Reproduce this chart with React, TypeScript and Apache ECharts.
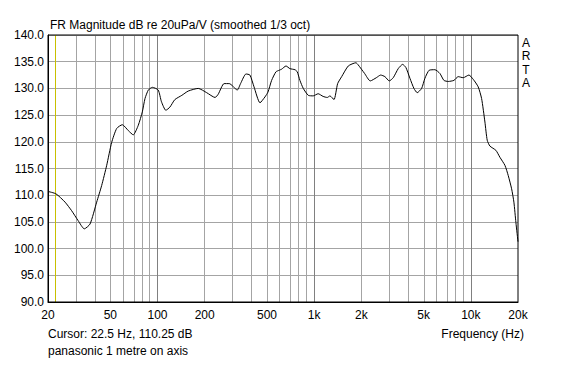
import React, { useEffect, useRef } from "react";
import * as echarts from "echarts";

const freqHz = [20, 22.5, 25.7, 28.3, 31.2, 34.1, 37.1, 40.9, 44, 47.4, 51, 54.9, 59.6, 65.1, 70, 75.4, 80, 83.2, 87.4, 92.7, 101, 106, 113, 120, 129, 143, 157, 182, 206, 233, 244, 266, 287, 323, 339, 367, 389, 413, 451, 485, 507, 535, 570, 598, 620, 661, 700, 754, 780, 811, 852, 917, 986, 1060, 1140, 1212, 1261, 1338, 1412, 1498, 1651, 1848, 1910, 2098, 2280, 2493, 2658, 2830, 3014, 3196, 3440, 3670, 3852, 4084, 4332, 4546, 4852, 5092, 5420, 5898, 6346, 6732, 7170, 7798, 8306, 8940, 9720, 10356, 11140, 11714, 12300, 12720, 13234, 14456, 15330, 16500, 17320, 18210, 18830, 19390, 20000];

const magDb = [110.7, 110.25, 108.7, 107.1, 105.2, 103.7, 104.6, 108.7, 111.8, 115.6, 119.9, 122.5, 123.2, 122.1, 121.3, 123.1, 125.6, 128.1, 129.7, 130.2, 129.7, 127.5, 125.9, 126.5, 127.9, 128.7, 129.5, 130.0, 129.2, 128.3, 128.9, 130.9, 130.9, 129.7, 130.9, 132.7, 132.5, 130.3, 127.3, 128.4, 129.3, 131.5, 133.1, 133.4, 133.6, 134.2, 133.7, 133.5, 133.1, 131.5, 130.0, 128.7, 128.6, 129.0, 128.5, 128.3, 128.6, 127.9, 130.9, 132.2, 134.2, 134.8, 134.4, 132.8, 131.4, 132.0, 132.5, 132.2, 131.4, 132.0, 133.7, 134.5, 133.9, 131.9, 130.0, 129.2, 130.0, 131.9, 133.4, 133.5, 132.8, 131.5, 131.3, 131.5, 132.2, 132.0, 132.5, 131.7, 130.3, 128.1, 123.7, 120.3, 119.2, 118.4, 117.1, 115.6, 113.7, 111.2, 108.7, 104.9, 101.3];

const gridFreqs = [30, 40, 50, 60, 70, 80, 90, 100, 200, 300, 400, 500, 600, 700, 800, 900, 1000, 2000, 3000, 4000, 5000, 6000, 7000, 8000, 9000, 10000];
const decadeFreqs = [100, 1000, 10000];
const xLabelFreqs = [20, 50, 100, 200, 500, 1000, 2000, 5000, 10000, 20000];
const cursorFreq = 22.5;

const titleText = "FR Magnitude dB re 20uPa/V (smoothed 1/3 oct)";
const cursorText = "Cursor: 22.5 Hz, 110.25 dB";
const noteText = "panasonic 1 metre on axis";
const xAxisName = "Frequency (Hz)";
const brandLetters = ["A", "R", "T", "A"];

const FONT = "'Liberation Sans', Arial, sans-serif";

function fmtFreq(v: number): string {
  const f = Math.round(Math.pow(10, v));
  return f >= 1000 ? f / 1000 + "k" : String(f);
}

export default function App() {
  const ref = useRef<HTMLDivElement>(null);
  useEffect(() => {
    if (!ref.current) return;
    const chart = echarts.init(ref.current, null, { renderer: "svg" });
    const lineData = freqHz.map((f, i) => [Math.log10(f), magDb[i]]);
    const markData: any[] = gridFreqs.map((f) => ({
      xAxis: Math.log10(f),
      lineStyle: {
        color: decadeFreqs.includes(f) ? "#808080" : "#a4a4a4",
        width: 1,
        type: "solid",
      },
    }));
    markData.push({
      xAxis: Math.log10(cursorFreq),
      lineStyle: { color: "#c8c000", width: 1, type: "solid" },
    });
    chart.setOption({
      animation: false,
      textStyle: { fontFamily: FONT },
      grid: {
        left: 48,
        top: 35,
        width: 470,
        height: 267,
        show: true,
        borderColor: "#000",
        borderWidth: 1,
        backgroundColor: "transparent",
        z: 10,
      },
      xAxis: {
        type: "value",
        min: Math.log10(20),
        max: Math.log10(20000),
        axisLine: { show: true, lineStyle: { color: "#000" } },
        axisTick: { show: false },
        splitLine: { show: false },
        axisLabel: {
          customValues: xLabelFreqs.map((f) => Math.log10(f)),
          formatter: (v: number) => fmtFreq(v),
          color: "#000",
          fontSize: 12,
          fontFamily: FONT,
          margin: 7,
          showMinLabel: true,
          showMaxLabel: true,
        },
      },
      yAxis: {
        type: "value",
        min: 90,
        max: 140,
        interval: 5,
        axisLine: { show: true, lineStyle: { color: "#000" } },
        axisTick: { show: false },
        splitLine: { show: true, lineStyle: { color: "#a4a4a4", width: 1 } },
        axisLabel: {
          formatter: (v: number) => v.toFixed(1),
          color: "#000",
          fontSize: 12,
          fontFamily: FONT,
          margin: 4,
        },
      },
      series: [
        {
          type: "line",
          data: lineData,
          showSymbol: false,
          smooth: 0.2,
          lineStyle: { color: "#000", width: 1 },
          z: 5,
          markLine: {
            silent: true,
            symbol: "none",
            label: { show: false },
            animation: false,
            z: 1,
            data: markData,
          },
        },
      ],
      graphic: [
        {
          type: "text",
          x: 50,
          y: 24.5,
          style: {
            text: titleText,
            font: "12px " + FONT,
            fill: "#000",
            verticalAlign: "middle",
            textVerticalAlign: "middle",
          },
        },
        {
          type: "text",
          x: 526,
          y: 36,
          style: {
            text: brandLetters.join("\n"),
            font: "12px " + FONT,
            lineHeight: 13.5,
            fill: "#000",
            align: "center",
            textAlign: "center",
          },
        },
        {
          type: "text",
          x: 48,
          y: 333.5,
          style: {
            text: cursorText,
            font: "12px " + FONT,
            fill: "#000",
            verticalAlign: "middle",
            textVerticalAlign: "middle",
          },
        },
        {
          type: "text",
          x: 48,
          y: 351,
          style: {
            text: noteText,
            font: "12px " + FONT,
            fill: "#000",
            verticalAlign: "middle",
            textVerticalAlign: "middle",
          },
        },
        {
          type: "text",
          x: 524,
          y: 333.5,
          style: {
            text: xAxisName,
            font: "12px " + FONT,
            fill: "#000",
            align: "right",
            textAlign: "right",
            verticalAlign: "middle",
            textVerticalAlign: "middle",
          },
        },
      ],
    });
    return () => chart.dispose();
  }, []);
  return (
    <div
      ref={ref}
      style={{ position: "absolute", left: 0, top: 0, width: 566, height: 384 }}
    />
  );
}
